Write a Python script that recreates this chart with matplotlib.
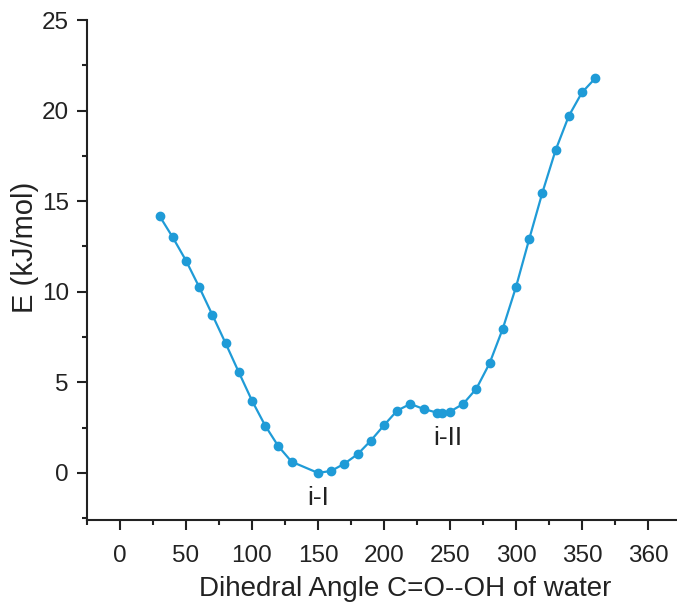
import matplotlib.pyplot as plt
import numpy as np

plt.rcParams['font.family'] = ['Liberation Sans', 'DejaVu Sans']

# dihedral angle (deg) and relative energy (kJ/mol)
angle = [30, 40, 50, 60, 70, 80, 90, 100, 110, 120, 130, 150, 160, 170,
         180, 190, 200, 210, 220, 230, 240, 244, 250, 260, 270, 280, 290,
         300, 310, 320, 330, 340, 350, 360]
energy = [14.18, 13.0, 11.72, 10.26, 8.72, 7.16, 5.56, 3.99, 2.61, 1.47, 0.62,
          0.0, 0.11, 0.51, 1.03, 1.78, 2.63, 3.44, 3.81, 3.53, 3.33, 3.33,
          3.38, 3.81, 4.65, 6.05, 7.96, 10.26, 12.9, 15.47, 17.81, 19.7,
          21.0, 21.78]

xtick_pos = [0, 50, 100, 150, 200, 250, 300, 350, 400]
xtick_labels = ['0', '50', '100', '150', '200', '250', '300', '350', '360']
ytick_pos = [0, 5, 10, 15, 20, 25]

color = '#1f9bd7'
dark = '#222222'

fig = plt.figure(figsize=(6.77, 6.07), dpi=100)
ax = fig.add_axes([0.1285, 0.1433, 0.8715, 0.8237])

ax.plot(angle, energy, color=color, lw=1.6, marker='o', ms=6)

ax.set_xlim(-25, 422)
ax.set_ylim(-2.6, 25)
ax.set_xticks(xtick_pos)
ax.set_xticklabels(xtick_labels)
ax.set_xticks(np.arange(-25, 422, 25), minor=True)
ax.set_yticks(ytick_pos)
ax.set_yticks(np.arange(-2.5, 25, 2.5), minor=True)

for side in ['top', 'right']:
    ax.spines[side].set_visible(False)
for side in ['left', 'bottom']:
    ax.spines[side].set_linewidth(1.5)
    ax.spines[side].set_color(dark)

ax.tick_params(which='major', length=7, width=1.5, labelsize=17.5, colors=dark)
ax.tick_params(which='minor', length=3.6, width=1.5, colors=dark)
ax.tick_params(axis='x', which='major', pad=11)
ax.tick_params(axis='y', which='major', pad=6)

ax.set_xlabel('Dihedral Angle C=O--OH of water', fontsize=20, color=dark)
ax.set_ylabel('E (kJ/mol)', fontsize=21, color=dark)
ax.xaxis.set_label_coords(0.539, -0.112)
ax.yaxis.set_label_coords(-0.082, 0.545)

ax.text(150, -1.4, 'i-I', fontsize=19, ha='center', va='center', color=dark)
ax.text(248, 1.93, 'i-II', fontsize=19, ha='center', va='center', color=dark)

fig.savefig('out.png', dpi=100)
